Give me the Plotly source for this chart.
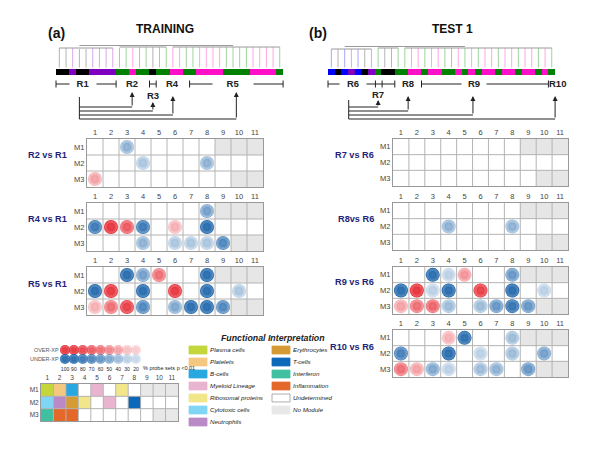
import plotly.graph_objects as go

W, H = 600, 454
OFF = 8  # page body margin of the html page

# ---------------- data ----------------
COLS = list(range(1, 12))
ROWS = ["M1", "M2", "M3"]
NO_MODULE = [[0, 0, 0, 0, 0, 0, 0, 0, 1, 1, 1],
             [0, 0, 0, 0, 0, 0, 0, 0, 0, 0, 0],
             [0, 0, 0, 0, 0, 0, 0, 0, 0, 1, 1]]

# % probe sets (positive = over-expressed/red, negative = under-expressed/blue)
R2_VS_R1 = [[0, 0, -45, 0, 0, 0, 0, 0, 0, 0, 0],
            [0, 0, 0, -35, 0, 0, 0, -45, 0, 0, 0],
            [40, 0, 0, 0, 0, 0, 0, 0, 0, 0, 0]]
R4_VS_R1 = [[0, 0, 0, 0, 0, 0, 0, -55, 0, 0, 0],
            [-80, 100, 70, -80, 0, 35, 0, -100, 0, 0, 0],
            [0, 0, 0, -45, 0, -35, -35, -35, -70, 0, 0]]
R5_VS_R1 = [[0, 0, -100, -55, 60, 0, 0, -100, 0, 0, 0],
            [-100, 90, 0, -100, 0, 90, 0, -100, 0, -35, 0],
            [35, 60, 85, -70, 0, -50, -90, -95, -70, 0, 0]]
R7_VS_R6 = [[0] * 11, [0] * 11, [0] * 11]
R8_VS_R6 = [[0] * 11,
            [0, 0, 0, -45, 0, 0, 0, -45, 0, 0, 0],
            [0] * 11]
R9_VS_R6 = [[0, 0, -95, -30, 45, 0, 0, -60, 0, 0, 0],
            [-100, 100, -30, -100, 0, 85, 0, -100, 0, -30, 0],
            [40, 60, 65, -40, 0, -40, -60, -85, -60, 0, 0]]
R10_VS_R6 = [[0, 0, 0, 35, -90, 0, 0, -40, 0, 0, 0],
             [-75, 0, 0, -95, 0, -30, 0, -40, 0, -55, 0],
             [60, 40, -50, -30, 0, -40, -45, 0, -60, 0, 0]]

LEGEND_LEVELS = [100, 90, 80, 70, 60, 50, 40, 30, 20]
LEGEND_ROWS = ["OVER-XP", "UNDER-XP"]

KEY_NAMES = ["Undetermined", "No Module", "Plasma cells", "Platelets", "B-cells",
             "Myeloid Lineage", "Ribosomal proteins", "Cytotoxic cells", "Neutrophils",
             "Erythrocytes", "T-cells", "Interferon", "Inflammation"]
KEY_COLORS = ["#ffffff", "#e8e8e8", "#c3d63a", "#f5c882", "#28a8e0",
              "#e8b4cf", "#f2e68a", "#80d4f4", "#b98ac5",
              "#d49a34", "#0c68b8", "#40c0a0", "#e4682a"]
KEY_MAP = [["Plasma cells", "Platelets", "B-cells", "Undetermined", "Myeloid Lineage", "Undetermined",
            "Ribosomal proteins", "Undetermined", "No Module", "No Module", "No Module"],
           ["Cytotoxic cells", "Neutrophils", "Erythrocytes", "Ribosomal proteins", "Undetermined",
            "Myeloid Lineage", "Undetermined", "T-cells", "Undetermined", "Undetermined", "Undetermined"],
           ["Interferon", "Inflammation", "Inflammation", "Undetermined", "Undetermined", "Undetermined",
            "Undetermined", "Undetermined", "Undetermined", "No Module", "No Module"]]
KEY_LEGEND_COL1 = ["Plasma cells", "Platelets", "B-cells", "Myeloid Lineage",
                   "Ribosomal proteins", "Cytotoxic cells", "Neutrophils"]
KEY_LEGEND_COL2 = ["Erythrocytes", "T-cells", "Interferon", "Inflammation",
                   "Undetermined", "No Module"]

# dendrogram leaves (sample groups) : k black, p purple, g green, m pink, b blue
LEFT_LEAVES = "kkpkkppppggmggkggmmggmmmmggggmmmmg"
RIGHT_LEAVES = "bkbpbkpgkkggmmgmmggmgmgmmgmmgmmgmg"
LEFT_TOPS = [48, 48, 48, 49, 49, 48, 48, 48, 48, 48, 48, 48, 47, 47, 47, 47, 47,
             47, 47, 47, 47, 47, 47, 47, 47, 47, 47, 47, 47, 47, 47, 47, 47, 47]
RIGHT_TOPS = [49, 49, 49, 49, 49, 49, 49, 48, 48, 48, 48, 48, 48, 48, 48, 48, 48,
              48, 48, 48, 48, 48, 48, 48, 48, 48, 48, 48, 48, 48, 48, 48, 48, 48]
LEFT_LINKS = [(0, 8, 48), (9, 16, 47), (17, 33, 47), (3, 26, 45.5)]
RIGHT_LINKS = [(0, 6, 49), (7, 10, 48), (11, 33, 48), (2, 20, 46.5)]

# ---------------- styles ----------------
LEAF_CODES = "kpgmb"
LEAF_COLORS = ["#000000", "#8000c0", "#008000", "#ff10c8", "#0000ff"]
LEAF_LIGHT = ["#b4b4b4", "#d8a8ea", "#9ed49e", "#ffa8e4", "#a8a8f8"]
NAVY = "#1f1f7a"
FONT = "Liberation Sans, Arial, sans-serif"
GRID_LINE = "#b4b4b4"

fig = go.Figure()
layout = dict(width=W, height=H, margin=dict(l=0, r=0, t=0, b=0),
              paper_bgcolor="white", plot_bgcolor="white", showlegend=False,
              font=dict(family=FONT, color="#333"))
annotations = []
shapes = []


def refs(n):
    return ("x" if n == 1 else f"x{n}", "y" if n == 1 else f"y{n}",
            "xaxis" if n == 1 else f"xaxis{n}", "yaxis" if n == 1 else f"yaxis{n}")


def px(a):
    return (a - OFF) / W


def py(b):
    return 1 - (b - OFF) / H


def xdom(a, b):
    return [px(a), px(b)]


def ydom(top, bottom):
    return [py(bottom), py(top)]


def discrete_scale(colors):
    n = len(colors)
    cs = []
    for i, c in enumerate(colors):
        cs.append([i / n, c])
        cs.append([(i + 1) / n, c])
    return cs


def paper_text(txt, x, y, size, color="#222", xanchor="center"):
    annotations.append(dict(text=txt, x=px(x), y=py(y), xref="paper", yref="paper",
                            xanchor=xanchor, yanchor="middle", showarrow=False,
                            font=dict(size=size, color=color, family=FONT)))


def circ_rgba(v, scale=1.0):
    a = max(0.18, min(1.0, (abs(v) - 12) / 80)) * scale
    base = (228, 22, 32) if v > 0 else (8, 86, 162)
    return "rgba(%d,%d,%d,%.3f)" % (base[0], base[1], base[2], a)


def add_circles(xr, yr, xs, ys, vs, size):
    for f, sc, grad in ((1.0, 1.0, True), (0.78, 0.55, False), (0.56, 0.6, False)):
        mk = dict(size=size * f, color=[circ_rgba(v, sc) for v in vs], line=dict(width=0))
        if grad:
            mk["gradient"] = dict(type="radial", color="rgba(255,255,255,0)")
        fig.add_trace(go.Scatter(x=xs, y=ys, xaxis=xr, yaxis=yr, mode="markers",
                                 hoverinfo="skip", marker=mk))


def grid_axes(n, xa_px, ya_px, ncol, nrow, tick_size=7.5, row_labels=ROWS, col_labels=COLS):
    xr, yr, xk, yk = refs(n)
    layout[xk] = dict(domain=xdom(*xa_px), anchor=yr, range=[0.5, ncol + 0.5],
                      tickmode="array", tickvals=list(range(1, ncol + 1)),
                      ticktext=[str(c) for c in col_labels], side="top", ticks="", tickangle=0,
                      tickfont=dict(size=tick_size, color="#444"), showgrid=False, zeroline=False,
                      showline=True, mirror=True, linecolor="#999", linewidth=1, fixedrange=True)
    layout[yk] = dict(domain=ydom(*ya_px), anchor=xr, range=[nrow + 0.5, 0.5],
                      tickmode="array", tickvals=list(range(1, nrow + 1)),
                      ticktext=row_labels, ticks="", tickfont=dict(size=tick_size, color="#444"),
                      showgrid=False, zeroline=False, showline=True, mirror=True, linecolor="#999",
                      linewidth=1, fixedrange=True)
    return xr, yr


def add_cell_lines(xr, yr, ncol, nrow):
    xs, ys = [], []
    for i in range(1, ncol):
        xs += [i + 0.5, i + 0.5, None]; ys += [0.5, nrow + 0.5, None]
    for j in range(1, nrow):
        xs += [0.5, ncol + 0.5, None]; ys += [j + 0.5, j + 0.5, None]
    fig.add_trace(go.Scatter(x=xs, y=ys, xaxis=xr, yaxis=yr, mode="lines", hoverinfo="skip",
                             line=dict(color=GRID_LINE, width=1)))


def add_grid(n, vals, xa_px, ya_px, label, label_x, label_y):
    xr, yr = grid_axes(n, xa_px, ya_px, len(COLS), len(ROWS))
    fig.add_trace(go.Heatmap(z=NO_MODULE, x=COLS, y=[1, 2, 3], xaxis=xr, yaxis=yr,
                             colorscale=[[0, "#ffffff"], [1, "#e6e6e6"]], zmin=0, zmax=1,
                             showscale=False, hoverinfo="skip"))
    add_cell_lines(xr, yr, len(COLS), len(ROWS))
    xs, ys, vs = [], [], []
    for r, row in enumerate(vals):
        for c, v in enumerate(row):
            if v:
                xs.append(COLS[c]); ys.append(r + 1); vs.append(v)
    if xs:
        add_circles(xr, yr, xs, ys, vs, 14)
    paper_text("<b>%s</b>" % label, label_x, label_y, 9.2, NAVY, xanchor="right")


# ----- comparison grids -----
add_grid(1, R2_VS_R1, (87, 263), (139, 187), "R2 vs R1", 69, 155)
add_grid(2, R4_VS_R1, (87, 263), (203, 251), "R4 vs R1", 69, 219)
add_grid(3, R5_VS_R1, (87, 263), (267, 315), "R5 vs R1", 69, 284)
add_grid(4, R7_VS_R6, (393, 568), (139, 186), "R7 vs R6", 376, 155)
add_grid(5, R8_VS_R6, (393, 568), (203, 250), "R8vs R6", 376, 219)
add_grid(6, R9_VS_R6, (393, 568), (267, 314), "R9 vs R6", 376, 282)
add_grid(7, R10_VS_R6, (393, 568), (330, 377), "R10 vs R6", 376, 347)


# ----- dendrogram panels -----
def add_dendro(n, leaves, tops, links, dom_px, brackets, labels, arrows):
    xr, yr, xk, yk = refs(n)
    layout[xk] = dict(domain=xdom(*dom_px), range=[-0.8, len(leaves) - 0.2], visible=False,
                      anchor=yr, fixedrange=True)
    layout[yk] = dict(domain=ydom(38, 122), range=[122, 38], visible=False, anchor=xr, fixedrange=True)
    codes = [LEAF_CODES.index(c) for c in leaves]
    for ci in range(len(LEAF_CODES)):
        xs, ys = [], []
        for i, c in enumerate(codes):
            if c == ci:
                xs += [i, i, None]; ys += [67.5, tops[i], None]
        if xs:
            fig.add_trace(go.Scatter(x=xs, y=ys, xaxis=xr, yaxis=yr, mode="lines", hoverinfo="skip",
                                     line=dict(color=LEAF_LIGHT[ci], width=1)))
    lx, ly = [], []
    for a, b, h in links:
        lx += [a, b, None]; ly += [h, h, None]
    fig.add_trace(go.Scatter(x=lx, y=ly, xaxis=xr, yaxis=yr, mode="lines", hoverinfo="skip",
                             line=dict(color="#9a9a9a", width=1)))
    fig.add_trace(go.Heatmap(z=[codes], x0=0, dx=1, y0=72, dy=6, xaxis=xr, yaxis=yr,
                             colorscale=discrete_scale(LEAF_COLORS), zmin=-0.5,
                             zmax=len(LEAF_COLORS) - 0.5, showscale=False, hoverinfo="skip"))
    for a, b, ticks in brackets:
        if b is not None:
            shapes.append(dict(type="line", xref=xr, yref=yr, x0=a, x1=b, y0=84, y1=84,
                               line=dict(color="#222", width=1)))
        for t in ticks:
            shapes.append(dict(type="line", xref=xr, yref=yr, x0=t, x1=t, y0=80.5, y1=87.5,
                               line=dict(color="#222", width=1)))
    for txt, x, y, w in labels:
        annotations.append(dict(text="<b>%s</b>" % txt, x=x, y=y, xref=xr, yref=yr, showarrow=False,
                                xanchor="center", yanchor="middle",
                                bgcolor="white" if w else None, width=w, borderpad=0,
                                font=dict(size=9.5, color="#222", family=FONT)))
    src, y_top, y_bot = arrows[0]
    shapes.append(dict(type="line", xref=xr, yref=yr, x0=src, x1=src, y0=y_top, y1=y_bot,
                       line=dict(color="#222", width=1)))
    for tx, hy, tip in arrows[1]:
        shapes.append(dict(type="line", xref=xr, yref=yr, x0=src, x1=tx, y0=hy, y1=hy,
                           line=dict(color="#222", width=1)))
        annotations.append(dict(text="", x=tx, y=tip, ax=tx, ay=hy, xref=xr, yref=yr, axref=xr,
                                ayref=yr, showarrow=True, arrowhead=2, arrowsize=1, arrowwidth=1,
                                arrowcolor="#222", standoff=0))


add_dendro(8, LEFT_LEAVES, LEFT_TOPS, LEFT_LINKS, (54.0, 285.1),
           brackets=[(-0.5, 8.5, [-0.5, 8.5]), (13.5, 14.5, [13.5, 14.5]), (19.5, 33.5, [19.5, 33.5])],
           labels=[("R1", 3.5, 84, 26), ("R2", 10.9, 84, None), ("R3", 14, 96, None),
                   ("R4", 17, 84, None), ("R5", 26.0, 84, 40)],
           arrows=[(3, 97, 119), [(10.9, 107, 92), (14, 111, 102), (17, 115, 96), (26.5, 119, 92)]])
add_dendro(9, RIGHT_LEAVES, RIGHT_TOPS, RIGHT_LINKS, (326.0, 557.1),
           brackets=[(-0.5, 9.5, [-0.5, 6.6, 7.6, 9.5]), (13.5, 32.5, [13.5, 32.5])],
           labels=[("R6", 3.3, 84, 26), ("R7", 7.0, 95, None), ("R8", 11.5, 84, None),
                   ("R9", 21.3, 84, 24)],
           arrows=[(2.6, 100, 119), [(7.0, 107, 100), (11.5, 111, 96), (21.2, 115, 96), (33.5, 119, 96)]])
paper_text("<b>R10</b>", 557, 84, 9.5)

# ----- over/under legend circles -----
xr, yr, xk, yk = refs(10)
layout[xk] = dict(domain=xdom(59.7, 141.3), range=[106, 14], anchor=yr, tickmode="array",
                  tickvals=LEGEND_LEVELS, ticktext=[str(v) for v in LEGEND_LEVELS], ticks="",
                  tickangle=0, tickfont=dict(size=5, color="#222"), showgrid=False, zeroline=False,
                  showline=False, fixedrange=True)
layout[yk] = dict(domain=ydom(342.8, 364.5), range=[1.6, -0.8], anchor=xr, tickmode="array",
                  tickvals=[0, 1], ticktext=LEGEND_ROWS, ticks="", tickfont=dict(size=5.5, color="#555"),
                  showgrid=False, zeroline=False, showline=False, fixedrange=True)
lx = LEGEND_LEVELS + LEGEND_LEVELS
ly = [0] * len(LEGEND_LEVELS) + [1] * len(LEGEND_LEVELS)
lv = [v for v in LEGEND_LEVELS] + [-v for v in LEGEND_LEVELS]
add_circles(xr, yr, lx, ly, lv, 10)
paper_text("% probe sets p <0.01", 141, 368, 5.5, xanchor="left")

# ----- functional key grid -----
xr, yr = grid_axes(11, (41, 178), (384, 421), len(COLS), len(ROWS), tick_size=6.5)
kz = [[KEY_NAMES.index(n) for n in row] for row in KEY_MAP]
fig.add_trace(go.Heatmap(z=kz, x=COLS, y=[1, 2, 3], xaxis=xr, yaxis=yr,
                         colorscale=discrete_scale(KEY_COLORS), zmin=-0.5, zmax=len(KEY_COLORS) - 0.5,
                         showscale=False, hoverinfo="skip"))
add_cell_lines(xr, yr, len(COLS), len(ROWS))

# ----- functional legend -----
xr, yr, xk, yk = refs(12)
layout[xk] = dict(domain=xdom(185, 345), range=[0, 160], visible=False, anchor=yr, fixedrange=True)
layout[yk] = dict(domain=ydom(344, 428), range=[6.5, -0.5], visible=False, anchor=xr, fixedrange=True)
for names, base in ((KEY_LEGEND_COL1, 4), (KEY_LEGEND_COL2, 87)):
    cols_ = [KEY_COLORS[KEY_NAMES.index(n)] for n in names]
    lines_ = ["#9a9a9a" if n == "Undetermined" else c for n, c in zip(names, cols_)]
    fig.add_trace(go.Bar(orientation="h", y=list(range(len(names))), x=[18] * len(names),
                         base=[base] * len(names), width=0.66, xaxis=xr, yaxis=yr, hoverinfo="skip",
                         marker=dict(color=cols_, line=dict(color=lines_, width=0.8))))
    fig.add_trace(go.Scatter(x=[base + 21] * len(names), y=list(range(len(names))), xaxis=xr, yaxis=yr,
                             mode="text", text=["<i>%s</i>" % n for n in names],
                             textposition="middle right", hoverinfo="skip",
                             textfont=dict(size=6.2, color="#222", family=FONT)))
paper_text("<b><i>Functional Interpretation</i></b>", 273, 338, 8.8)

# ----- titles -----
for txt, x, y, s in (("(a)", 56, 33, 14), ("TRAINING", 165, 29, 12),
                     ("(b)", 318, 33, 14), ("TEST 1", 452, 29, 12)):
    paper_text("<b>%s</b>" % txt, x, y, s, "#111")

layout["annotations"] = annotations
layout["shapes"] = shapes
layout["barmode"] = "overlay"
fig.update_layout(**layout)
fig.write_html("out.html")
